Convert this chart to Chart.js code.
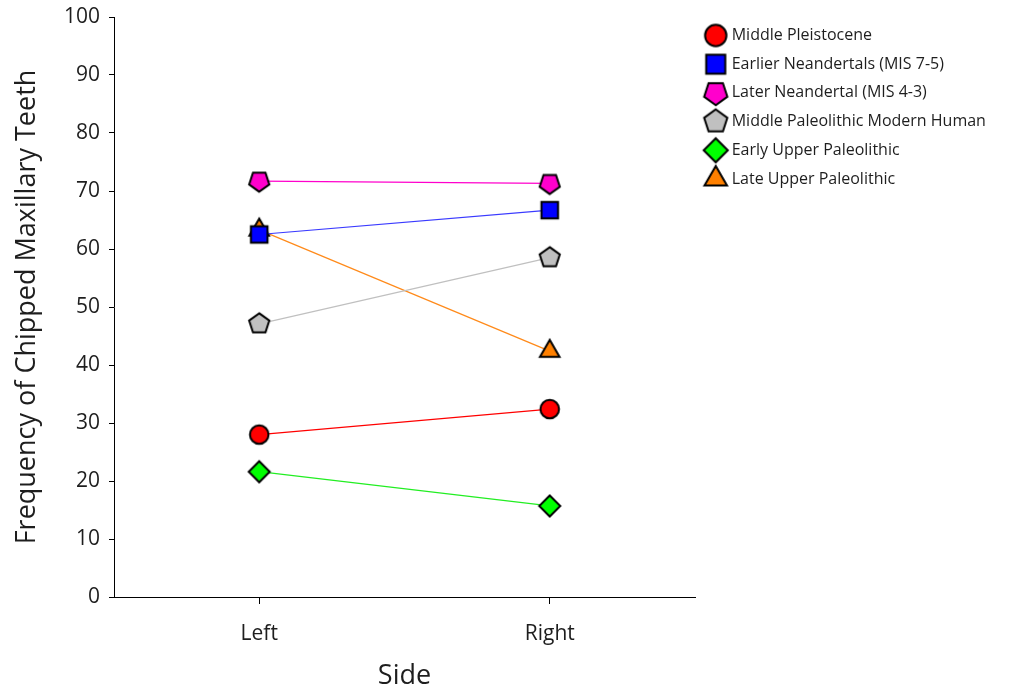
<!DOCTYPE html>
<html><head><meta charset="utf-8">
<script src="https://cdn.jsdelivr.net/npm/chart.js@4.4.1/dist/chart.umd.min.js"></script>
<style>html,body{margin:0;padding:0;background:#fff;}canvas{display:block}</style>
</head><body>
<canvas id="c" width="1015" height="693"></canvas>
<script>
// ---- data ----
const categories = ['Left', 'Right'];
const seriesNames = [
  'Middle Pleistocene',
  'Earlier Neandertals (MIS 7-5)',
  'Later Neandertal (MIS 4-3)',
  'Middle Paleolithic Modern Human',
  'Early Upper Paleolithic',
  'Late Upper Paleolithic'
];
const middlePleistocene      = [28.0, 32.4];
const earlierNeandertals     = [62.5, 66.7];
const laterNeandertal        = [71.7, 71.3];
const mpModernHuman          = [47.1, 58.5];
const earlyUpperPaleolithic  = [21.6, 15.7];
const lateUpperPaleolithic   = [63.3, 42.4];
const yTickValues = [0, 10, 20, 30, 40, 50, 60, 70, 80, 90, 100];

// ---- styles ----
const TEXT = '#1e1e1e';
const FONT = 'Open Sans';
const styles = [
  {shape: 'circle',   fill: '#ff0000', line: '#ff0000', s: 9.3},
  {shape: 'square',   fill: '#0000ff', line: '#3a3aff', s: 8.3},
  {shape: 'pentDown', fill: '#ff00cc', line: '#ff00cc', s: 10.6},
  {shape: 'pentUp',   fill: '#c0c0c0', line: '#c0c0c0', s: 10.6},
  {shape: 'diamond',  fill: '#00ff00', line: '#22ee22', s: 10.5},
  {shape: 'triangle', fill: '#ff8000', line: '#ff8a1a', s: 11.3}
];
const values = [middlePleistocene, earlierNeandertals, laterNeandertal, mpModernHuman, earlyUpperPaleolithic, lateUpperPaleolithic];

function marker(shape, fill, s) {
  const size = 2 * Math.ceil(s + 4);
  const c = document.createElement('canvas');
  c.width = c.height = size;
  const g = c.getContext('2d');
  const m = size / 2;
  g.beginPath();
  if (shape === 'circle') {
    g.arc(m, m, s, 0, Math.PI * 2);
  } else if (shape === 'square') {
    g.rect(m - s, m - s, 2 * s, 2 * s);
  } else if (shape === 'diamond') {
    g.moveTo(m, m - s); g.lineTo(m + s, m); g.lineTo(m, m + s); g.lineTo(m - s, m); g.closePath();
  } else if (shape === 'triangle') {
    for (let k = 0; k < 3; k++) {
      const a = -Math.PI / 2 + k * 2 * Math.PI / 3;
      const px = m + s * Math.cos(a), py = m + s * Math.sin(a);
      k ? g.lineTo(px, py) : g.moveTo(px, py);
    }
    g.closePath();
  } else {
    const base = shape === 'pentUp' ? -Math.PI / 2 : Math.PI / 2;
    for (let k = 0; k < 5; k++) {
      const a = base + k * 2 * Math.PI / 5;
      const px = m + s * Math.cos(a), py = m + s * Math.sin(a);
      k ? g.lineTo(px, py) : g.moveTo(px, py);
    }
    g.closePath();
  }
  g.fillStyle = fill; g.fill();
  g.lineWidth = 2; g.strokeStyle = '#000'; g.lineJoin = 'miter'; g.stroke();
  return c;
}
const dataMarkers = styles.map(st => marker(st.shape, st.fill, st.s));
const legendMarkers = styles.map(st => marker(st.shape, st.fill, st.s * 1.15));

const LEGEND_W = 320;
const LEGEND_TOP = 14.8;
const legendPatch = {
  id: 'legendPatch',
  beforeUpdate(chart) {
    const lg = chart.legend;
    if (lg && !lg.__patched) {
      const f = lg.fit;
      lg.fit = function () { f.call(this); this.width = LEGEND_W; };
      lg.__patched = true;
    }
  },
  afterLayout(chart) {
    if (chart.legend) chart.legend.top = LEGEND_TOP;
  }
};

new Chart(document.getElementById('c'), {
  type: 'line',
  data: {
    labels: categories,
    datasets: seriesNames.map((name, i) => ({
      label: name,
      data: values[i],
      borderColor: styles[i].line,
      backgroundColor: styles[i].fill,
      borderWidth: 1.2,
      pointStyle: dataMarkers[i],
      pointRadius: 10,
      pointHoverRadius: 10,
      tension: 0,
      fill: false
    }))
  },
  options: {
    responsive: false,
    animation: false,
    devicePixelRatio: 1,
    events: [],
    layout: {padding: {top: 17, left: 0, right: 0, bottom: 0}},
    plugins: {
      tooltip: {enabled: false},
      legend: {
        position: 'right',
        align: 'start',
        labels: {
          usePointStyle: true,
          padding: 12.7,
          color: TEXT,
          font: {family: FONT, size: 16},
          generateLabels(chart) {
            return Chart.defaults.plugins.legend.labels.generateLabels(chart)
              .map((it, i) => Object.assign(it, {pointStyle: legendMarkers[it.datasetIndex]}));
          }
        }
      }
    },
    scales: {
      x: {
        type: 'category',
        offset: true,
        grid: {display: true, drawOnChartArea: false, drawTicks: true, tickLength: 7, color: '#000', offset: false},
        border: {display: true, color: '#000', width: 1},
        ticks: {color: TEXT, font: {family: FONT, size: 21}, padding: 17},
        title: {display: true, text: 'Side', color: TEXT, font: {family: FONT, size: 27}, padding: {top: 0, bottom: 0}},
        afterFit(s) { s.height = 96; s.paddingLeft = 0; s.paddingRight = 0; }
      },
      y: {
        min: 0, max: 100,
        afterBuildTicks(s) { s.ticks = yTickValues.map(v => ({value: v})); },
        grid: {display: true, drawOnChartArea: false, drawTicks: true, tickLength: 5, color: '#000'},
        border: {display: true, color: '#000', width: 1},
        ticks: {color: TEXT, font: {family: FONT, size: 21}, padding: 9},
        title: {display: true, text: 'Frequency of Chipped Maxillary Teeth', color: TEXT, font: {family: FONT, size: 27}, padding: {top: 11, bottom: 0}},
        afterFit(s) { s.width = 114; s.paddingTop = 0; s.paddingBottom = 0; }
      }
    }
  },
  plugins: [legendPatch]
});
</script>
</body></html>
